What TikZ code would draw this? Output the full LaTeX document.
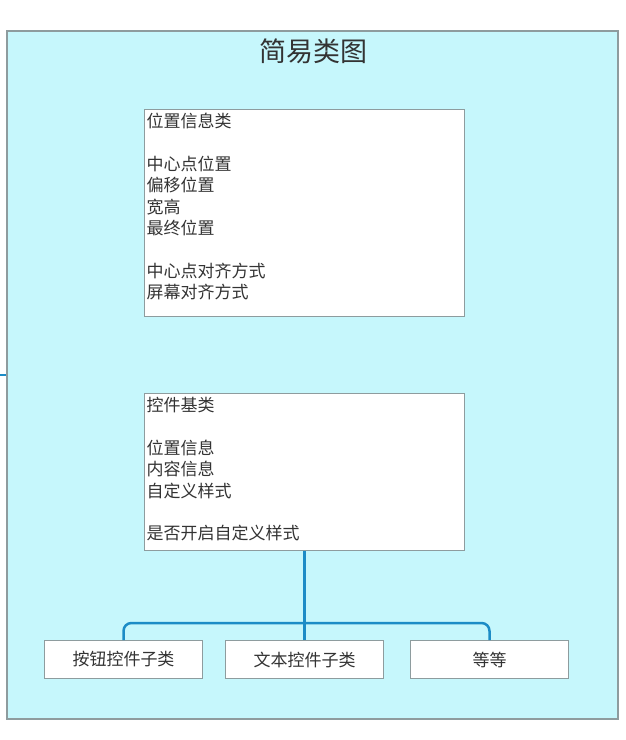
\documentclass[tikz,border=0pt]{standalone}
\usepackage{fontspec}
\setmainfont{Noto Sans CJK SC}
\usepackage{xcolor}
\usetikzlibrary{shapes,arrows,positioning}
\definecolor{bgcyan}{HTML}{C6F7FC}
\definecolor{framegray}{HTML}{8E9C9E}
\definecolor{linkblue}{HTML}{1C8CC6}
\definecolor{txtgray}{HTML}{333333}
\tikzstyle{frame} = [draw=framegray, line width=1.5pt, fill=bgcyan, minimum width=611pt, minimum height=688pt, inner sep=0pt]
\tikzstyle{classbox} = [draw=framegray, line width=1pt, fill=white, inner xsep=2pt, inner ysep=4pt, text=txtgray, font=\fontsize{17}{21.3}\selectfont]
\tikzstyle{subbox} = [draw=framegray, line width=1pt, fill=white, minimum width=158pt, minimum height=38pt, inner sep=0pt, text=txtgray, font=\fontsize{17}{21.3}\selectfont]
\tikzstyle{line} = [draw=linkblue, line width=2.5pt, rounded corners=8pt]

\begin{document}
\begin{tikzpicture}[x=1pt, y=-1pt, node distance = 2cm, auto]
    \useasboundingbox (0,0) rectangle (626,740);
    % Place nodes
     \node [frame] (frame) at (312.25,375) {};
     \node [text=txtgray, font=\fontsize{27}{30}\selectfont] (title) at (313,51) {简易类图};
     \node [classbox, anchor=north west] (pos) at (144,109) {\parbox[t][199pt][t]{316pt}{\raggedright
        位置信息类\\ \mbox{}\\
        中心点位置\\ 偏移位置\\ 宽高\\ 最终位置\\ \mbox{}\\
        中心点对齐方式\\ 屏幕对齐方式}};
     \node [classbox, below=76pt of pos] (base) {\parbox[t][149pt][t]{316pt}{\raggedright
        控件基类\\ \mbox{}\\
        位置信息\\ 内容信息\\ 自定义样式\\ \mbox{}\\
        是否开启自定义样式}};
     \node [subbox, below=89pt of base] (text) {文本控件子类};
     \node [subbox, left=22pt of text] (button) {按钮控件子类};
     \node [subbox, right=26pt of text] (etc) {等等};
     \coordinate [below=72pt of base.south] (bus);
     \coordinate (stub) at (0,375);

     \path [line] (base.south) -- (text.north);
     \path [line] (button.north) -- (button.north |- bus) -- (etc.north |- bus) -- (etc.north);
     \path [line, line width=2pt] (stub) -- (frame.west |- stub);

\end{tikzpicture}
\end{document}
